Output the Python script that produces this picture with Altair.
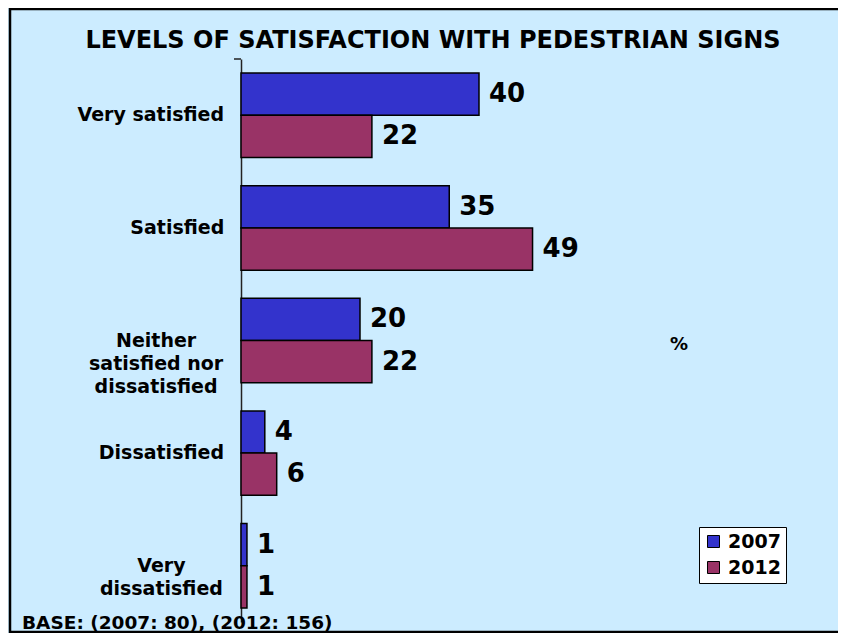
import altair as alt
import pandas as pd

categories = ["Very satisfied", "Satisfied", "Neither|satisfied nor|dissatisfied",
              "Dissatisfied", "Very|dissatisfied"]
years = ["2007", "2012"]
values_2007 = [40, 35, 20, 4, 1]
values_2012 = [22, 49, 22, 6, 1]
colors = ["#3333CC", "#993366"]
title_text = "LEVELS OF SATISFACTION WITH PEDESTRIAN SIGNS"
base_text = "BASE: (2007: 80), (2012: 156)"
unit_text = "%"

rows = []
for c, a, b in zip(categories, values_2007, values_2012):
    rows.append({"category": c, "year": years[0], "value": a})
    rows.append({"category": c, "year": years[1], "value": b})
df = pd.DataFrame(rows)
cat_df = pd.DataFrame({"category": categories})
one = pd.DataFrame({"t": [title_text], "b": [base_text], "u": [unit_text]})

FONT = "DejaVu Sans"
LABEL_SIZE = 19
W, H = 595, 563

y_scale = alt.Scale(paddingInner=0.25, paddingOuter=0.125)
y_enc = alt.Y("category:N", sort=categories, scale=y_scale,
              axis=alt.Axis(title=None, labels=False, ticks=False,
                            domainColor="#222222", domainWidth=1.5))
x_scale = alt.Scale(domain=[0, 100])
yoff = alt.YOffset("year:N", sort=years)
color = alt.Color("year:N", scale=alt.Scale(domain=years, range=colors),
                  legend=alt.Legend(title=None, orient="none", legendX=458, legendY=468,
                                    fillColor="white", strokeColor="black", padding=5,
                                    symbolType="square", symbolSize=144,
                                    symbolStrokeColor="black", symbolStrokeWidth=1,
                                    symbolOpacity=1,
                                    labelFont=FONT, labelFontSize=19, labelFontWeight="bold",
                                    labelColor="black", rowPadding=6, labelOffset=5))

bars = alt.Chart(df).mark_bar(stroke="black", strokeWidth=1.5, opacity=1).encode(
    x=alt.X("value:Q", scale=x_scale, axis=None), y=y_enc, yOffset=yoff, color=color)

labels = alt.Chart(df).mark_text(align="left", baseline="middle", dx=10, font=FONT,
                                 fontSize=26, fontWeight="bold", color="black").encode(
    x=alt.X("value:Q", scale=x_scale, axis=None),
    y=alt.Y("category:N", sort=categories), yOffset=yoff, text="value:Q")

# category labels: block right-aligned next to the axis, lines centred within the block
cat_labels = alt.Chart(cat_df).transform_calculate(
    lines="split(datum.category, '|')",
    maxlen="max(length(split(datum.category + '||', '|')[0]), "
           "length(split(datum.category + '||', '|')[1]), "
           "length(split(datum.category + '||', '|')[2]))",
    lx="-16 - datum.maxlen * 10.6 / 2",
).mark_text(align="center", baseline="middle", font=FONT, fontSize=LABEL_SIZE,
            fontWeight="bold", color="black", lineHeight=23).encode(
    x=alt.X("lx:Q", scale=None, axis=None),
    y=alt.Y("category:N", sort=categories),
    text="lines:N")

title = alt.Chart(one).mark_text(align="center", baseline="alphabetic", font=FONT,
                                 fontSize=24, fontWeight="bold", color="black").encode(
    text="t:N", x=alt.value(192), y=alt.value(-11))

unit = alt.Chart(one).mark_text(align="center", baseline="middle", font=FONT,
                                fontSize=18, fontWeight="bold", color="black").encode(
    text="u:N", x=alt.value(438), y=alt.value(286))

base = alt.Chart(one).mark_text(align="left", baseline="alphabetic", font=FONT,
                                fontSize=18.5, fontWeight="bold", color="black").encode(
    text="b:N", x=alt.value(-219), y=alt.value(570))

tick = alt.Chart(one).mark_rule(color="#222222", strokeWidth=1.5).encode(
    x=alt.value(-7), x2=alt.value(0), y=alt.value(0))

frame_left = alt.Chart(one).mark_rule(color="black", strokeWidth=2.5).encode(
    x=alt.value(-231), y=alt.value(-51), y2=alt.value(574))
frame_top = alt.Chart(one).mark_rule(color="black", strokeWidth=2.5).encode(
    x=alt.value(-232), x2=alt.value(W + 2), y=alt.value(-50))
frame_bottom = alt.Chart(one).mark_rule(color="black", strokeWidth=2.5).encode(
    x=alt.value(-232), x2=alt.value(W + 2), y=alt.value(573))

chart = alt.layer(bars, labels, cat_labels, title, unit, base, tick,
                  frame_left, frame_top, frame_bottom).resolve_scale(
    x="independent"
).properties(
    width=W, height=H,
    autosize=alt.AutoSizeParams(type="none"),
    padding={"left": 233, "top": 51, "right": 2, "bottom": 11},
).configure(background="#CCECFF").configure_view(stroke=None)

chart.save("out.html", embed_options={"renderer": "svg", "actions": False})
